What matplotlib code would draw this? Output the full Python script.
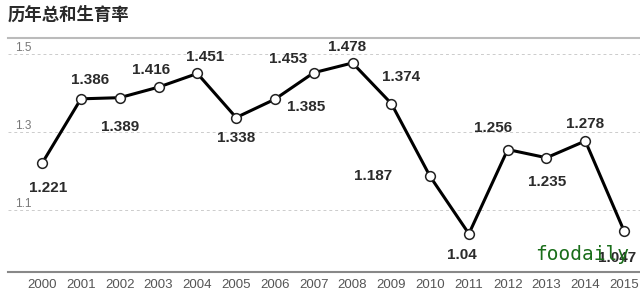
import matplotlib
matplotlib.use("Agg")
import matplotlib.pyplot as plt

years = list(range(2000, 2016))
tfr = [1.221, 1.386, 1.389, 1.416, 1.451, 1.338, 1.385, 1.453,
       1.478, 1.374, 1.187, 1.04, 1.256, 1.235, 1.278, 1.047]
y_ticks = [1.1, 1.3, 1.5]
title = "历年总和生育率"

# label offsets in pixels (dx, dy), by hand
offsets = [(6, -25), (9, 19), (0, -29), (-7, 17), (8, 16), (0, -20),
           (31, -8), (-26, 14), (-5, 16), (10, 27), (-57, 0), (-7, -21),
           (-15, 22), (1, -24), (0, 17), (-7, -27)]

plt.rcParams["font.family"] = ["Liberation Sans", "DejaVu Sans"]

fig = plt.figure(figsize=(6.4, 2.94), dpi=100)
ax = fig.add_axes([8 / 640, 22 / 294, 632 / 640, 234 / 294])

ax.plot(years, tfr, color="black", lw=2.2, marker="o", ms=7,
        mfc="white", mec="#222222", mew=1.1, zorder=3)

for x, y, (dx, dy) in zip(years, tfr, offsets):
    ax.annotate(f"{y:g}", (x, y), xytext=(dx, dy), textcoords="offset pixels",
                ha="center", va="center", fontsize=11, fontweight="bold",
                color="#2b2b2b")

ax.set_xlim(1999.12, 2015.41)
ax.set_ylim(0.942, 1.542)
ax.set_xticks(years)
ax.set_xticklabels([str(y) for y in years], fontsize=9.5, color="#555555")
ax.set_yticks(y_ticks)
ax.set_yticklabels([f"{v:g}" for v in y_ticks], fontsize=8.5, color="#777777")
ax.tick_params(axis="y", length=0, pad=-5)
ax.tick_params(axis="x", length=0, pad=5)
for lbl in ax.get_yticklabels():
    lbl.set_horizontalalignment("left")
    lbl.set_verticalalignment("bottom")
ax.grid(axis="y", color="#cccccc", ls=(0, (3, 3)), lw=0.7)

for side in ["left", "right"]:
    ax.spines[side].set_visible(False)
ax.spines["top"].set_color("#bbbbbb")
ax.spines["top"].set_linewidth(1.5)
ax.spines["bottom"].set_color("#888888")
ax.spines["bottom"].set_linewidth(1.5)

fig.text(8 / 640, 1 - 15 / 294, title, fontsize=12.5, fontweight="bold",
         color="#2a2a2a", va="center", ha="left",
         family=["Noto Sans CJK SC", "DejaVu Sans"])
# watermark sits on top of the last label, same as the source image
fig.text(535 / 640, 1 - 254 / 294, "foodaily", fontsize=14, color="#1a6e1a",
         va="center", ha="left", family="DejaVu Sans Mono")

fig.savefig("out.png", dpi=100, facecolor="white")
